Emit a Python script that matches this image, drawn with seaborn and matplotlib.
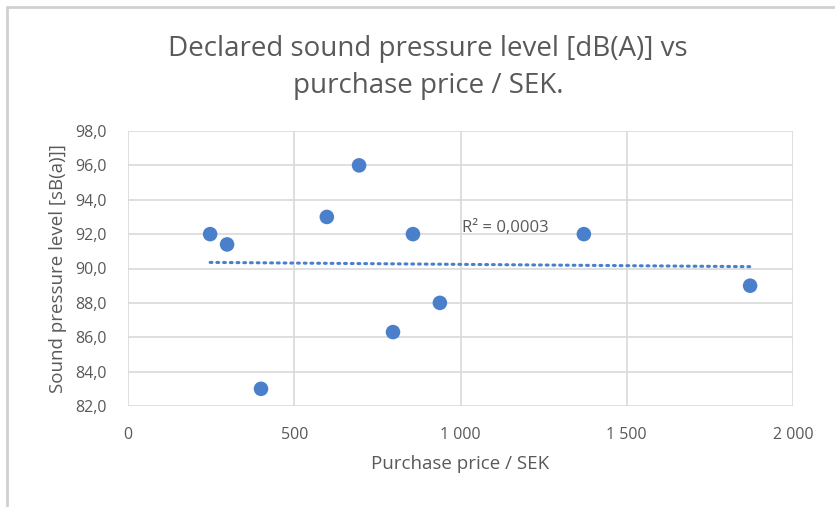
import numpy as np
import pandas as pd
import seaborn as sns
import matplotlib
matplotlib.use("Agg")
import matplotlib.pyplot as plt
from matplotlib.lines import Line2D
from matplotlib.ticker import FuncFormatter

# Data
price = [247, 298, 400, 598, 695, 797, 857, 938, 1371, 1871]
spl = [92.0, 91.4, 83.0, 93.0, 96.0, 86.3, 92.0, 88.0, 92.0, 89.0]
x_ticks = [0, 500, 1000, 1500, 2000]
y_ticks = [82, 84, 86, 88, 90, 92, 94, 96, 98]

df = pd.DataFrame({"price": price, "spl": spl})

sns.set_theme(style="white")
plt.rcParams['font.family'] = ['Open Sans', 'DejaVu Sans']

fig = plt.figure(figsize=(8.35, 5.07), dpi=100)
ax = fig.add_axes([128/835, 1-406/507, (793-128)/835, (406-131)/507])

blue = '#4a7fcb'
grid_c = '#d9d9d9'
text_c = '#595959'

# Trendline (linear fit)
coef = np.polyfit(df["price"], df["spl"], 1)
xs = np.array([df["price"].min(), df["price"].max()])
ax.plot(xs, np.polyval(coef, xs), linestyle=(0, (0.6, 1.6)), color=blue,
        linewidth=2.2, dash_capstyle='round', zorder=2)

sns.scatterplot(data=df, x="price", y="spl", ax=ax, color=blue, s=110,
                edgecolor='none', zorder=3)

ax.set_xlim(0, 2000)
ax.set_ylim(82, 98)
ax.set_xticks(x_ticks)
ax.set_yticks(y_ticks)
ax.xaxis.set_major_formatter(FuncFormatter(lambda v, p: f"{int(v):,}".replace(",", " ")))
ax.yaxis.set_major_formatter(FuncFormatter(lambda v, p: f"{v:.1f}".replace(".", ",")))
ax.grid(True, color=grid_c, linewidth=1.2)
ax.set_axisbelow(True)
for s in ax.spines.values():
    s.set_visible(False)
ax.tick_params(axis='both', length=0, labelsize=11.5, labelcolor=text_c)
ax.tick_params(axis='x', pad=15)
ax.tick_params(axis='y', pad=15)

ax.set_xlabel("Purchase price / SEK", fontsize=13.5, color=text_c, labelpad=9)
ax.set_ylabel("Sound pressure level [sB(a)]]", fontsize=13.5, color=text_c, labelpad=6)

# R² label
ax.text(1134, 92.36, "R² = 0,0003", fontsize=12, color=text_c, ha='center', va='center')

fig.text(428/835, 1-67.5/507, "Declared sound pressure level [dB(A)] vs\npurchase price / SEK.",
         ha='center', va='center', fontsize=20, color=text_c, linespacing=1.45)

# Outer frame (top and left lines)
fig.add_artist(Line2D([7/835, 7/835], [0, 1-7/507], transform=fig.transFigure,
                      color='#d0d0d0', linewidth=2))
fig.add_artist(Line2D([7/835, 1], [1-7/507, 1-7/507], transform=fig.transFigure,
                      color='#d0d0d0', linewidth=2))

fig.savefig("out.png", dpi=100)
